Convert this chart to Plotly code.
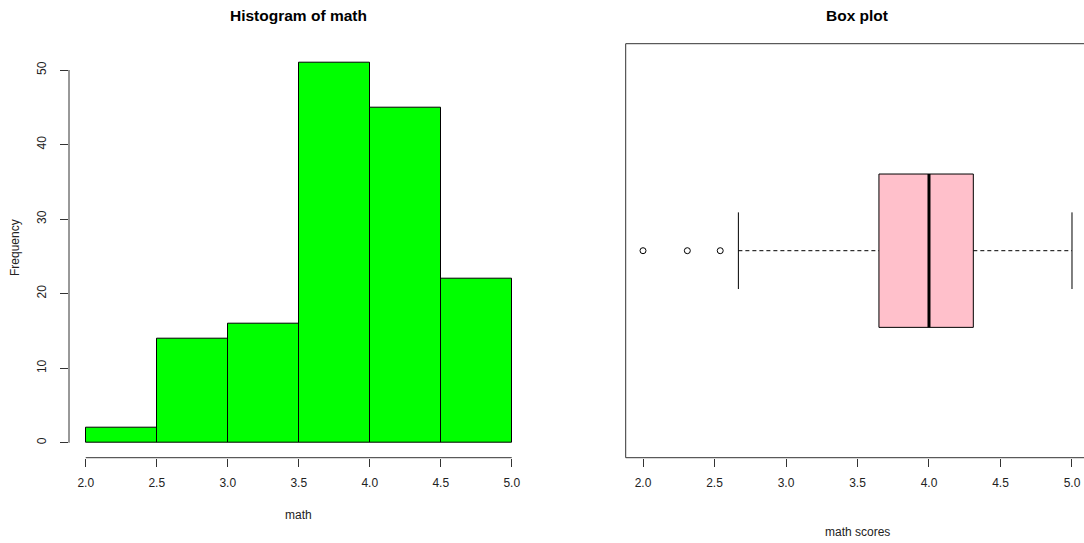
import plotly.graph_objects as go

# ---------------- data ----------------
bin_edges = [2.0, 2.5, 3.0, 3.5, 4.0, 4.5, 5.0]
counts = [2, 14, 16, 51, 45, 22]
hist_xticks = [2.0, 2.5, 3.0, 3.5, 4.0, 4.5, 5.0]
hist_xticklabels = ["2.0", "2.5", "3.0", "3.5", "4.0", "4.5", "5.0"]
hist_yticks = [0, 10, 20, 30, 40, 50]

# box plot summary
box_q1 = 3.65
box_median = 4.0
box_q3 = 4.31
whisker_low = 2.667
whisker_high = 5.0
outliers = [2.0, 2.31, 2.54]
box_xticks = [2.0, 2.5, 3.0, 3.5, 4.0, 4.5, 5.0]
box_xticklabels = ["2.0", "2.5", "3.0", "3.5", "4.0", "4.5", "5.0"]

W, H = 1084, 543
FONT = "Liberation Sans, Arial, sans-serif"
AX = "#333333"

def px_x(p):
    return p / W

def px_y(p):
    return 1 - p / H

centers = [(a + b) / 2 for a, b in zip(bin_edges[:-1], bin_edges[1:])]
widths = [b - a for a, b in zip(bin_edges[:-1], bin_edges[1:])]

fig = go.Figure()

fig.add_trace(go.Bar(
    x=centers, y=counts, width=widths,
    marker=dict(color="#00FF00", line=dict(color="black", width=1)),
    xaxis="x", yaxis="y", hoverinfo="skip",
))

# box plot built from its summary values
bc = 1.0
bh = 0.2
cap = 0.1
fig.add_trace(go.Scatter(
    x=[box_q1, box_q3, box_q3, box_q1, box_q1],
    y=[bc - bh, bc - bh, bc + bh, bc + bh, bc - bh],
    fill="toself", fillcolor="#FFC0CB", mode="lines",
    line=dict(color="black", width=1), xaxis="x2", yaxis="y2", hoverinfo="skip",
))
fig.add_trace(go.Scatter(
    x=[box_median, box_median], y=[bc - bh, bc + bh], mode="lines",
    line=dict(color="black", width=3), xaxis="x2", yaxis="y2", hoverinfo="skip",
))
for a, b in [(whisker_low, box_q1), (box_q3, whisker_high)]:
    fig.add_trace(go.Scatter(
        x=[a, b], y=[bc, bc], mode="lines",
        line=dict(color="black", width=1, dash="4px,3px"),
        xaxis="x2", yaxis="y2", hoverinfo="skip",
    ))
for w in [whisker_low, whisker_high]:
    fig.add_trace(go.Scatter(
        x=[w, w], y=[bc - cap, bc + cap], mode="lines",
        line=dict(color="black", width=1), xaxis="x2", yaxis="y2", hoverinfo="skip",
    ))
fig.add_trace(go.Scatter(
    x=outliers, y=[bc] * len(outliers), mode="markers",
    marker=dict(symbol="circle-open", size=6, color="black", line=dict(width=1)),
    xaxis="x2", yaxis="y2", hoverinfo="skip",
))

plot_top, plot_bot = 43.7, 457.7
tickfont = dict(family=FONT, size=12, color="#222222")

fig.update_layout(
    width=W, height=H,
    margin=dict(l=0, r=0, t=0, b=0),
    paper_bgcolor="white", plot_bgcolor="white",
    showlegend=False, bargap=0,
    xaxis=dict(
        domain=[px_x(69), px_x(528.5)], range=[1.882, 5.118], anchor="y",
        tickvals=hist_xticks, ticktext=hist_xticklabels,
        ticks="outside", ticklen=8, tickcolor=AX, tickwidth=1,
        showgrid=False, zeroline=False, showline=False,
        tickfont=tickfont, ticklabelstandoff=6,
    ),
    yaxis=dict(
        domain=[px_y(plot_bot), px_y(plot_top)], range=[-2.01, 53.53], anchor="x",
        tickvals=hist_yticks, tickangle=-90,
        ticks="outside", ticklen=8, tickcolor=AX, tickwidth=1,
        showgrid=False, zeroline=False, showline=False,
        tickfont=tickfont, ticklabelstandoff=9,
    ),
    xaxis2=dict(
        domain=[px_x(625.7), 1.0], range=[1.879, 5.084], anchor="y2",
        tickvals=box_xticks, ticktext=box_xticklabels,
        ticks="outside", ticklen=8, tickcolor=AX, tickwidth=1,
        showgrid=False, zeroline=False, showline=False,
        tickfont=tickfont, ticklabelstandoff=6,
    ),
    yaxis2=dict(
        domain=[px_y(plot_bot), px_y(plot_top)], range=[0.46, 1.54], anchor="x2",
        showticklabels=False, ticks="",
        showgrid=False, zeroline=False, showline=False,
    ),
)

line = dict(color=AX, width=1)
# histogram axis lines (span first to last tick)
fig.add_shape(type="line", xref="x", yref="y domain", x0=hist_xticks[0], x1=hist_xticks[-1], y0=0, y1=0, line=line)
fig.add_shape(type="line", xref="x domain", yref="y", x0=0, x1=0, y0=hist_yticks[0], y1=hist_yticks[-1], line=line)
# box plot frame (right edge falls outside the window)
fig.add_shape(type="line", xref="x2 domain", yref="y2 domain", x0=0, x1=1, y0=0, y1=0, line=line)
fig.add_shape(type="line", xref="x2 domain", yref="y2 domain", x0=0, x1=1, y0=1, y1=1, line=line)
fig.add_shape(type="line", xref="x2 domain", yref="y2 domain", x0=0, x1=0, y0=0, y1=1, line=line)

labfont = dict(family=FONT, size=12, color="#222222")
titlefont = dict(family=FONT, size=15.5, color="black")
hist_cx = (69 + 528.5) / 2 / W
box_cx = (625.7 + 1089) / 2 / W
fig.add_annotation(text="<b>Histogram of math</b>", x=hist_cx, y=px_y(15), xref="paper", yref="paper",
                   showarrow=False, font=titlefont, xanchor="center", yanchor="middle")
fig.add_annotation(text="<b>Box plot</b>", x=box_cx, y=px_y(15), xref="paper", yref="paper",
                   showarrow=False, font=titlefont, xanchor="center", yanchor="middle")
fig.add_annotation(text="math", x=hist_cx, y=px_y(515), xref="paper", yref="paper",
                   showarrow=False, font=labfont, xanchor="center", yanchor="middle")
fig.add_annotation(text="math scores", x=box_cx, y=px_y(532), xref="paper", yref="paper",
                   showarrow=False, font=labfont, xanchor="center", yanchor="middle")
fig.add_annotation(text="Frequency", x=px_x(15), y=px_y(248), xref="paper", yref="paper",
                   showarrow=False, font=labfont, xanchor="center", yanchor="middle", textangle=-90)

fig.write_html("out.html")
